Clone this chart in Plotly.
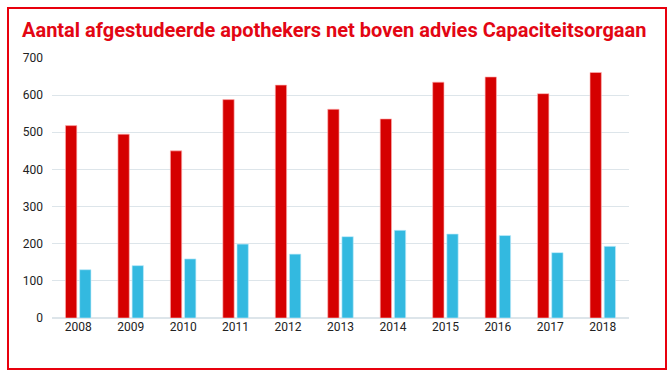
import plotly.graph_objects as go

years = ["2008", "2009", "2010", "2011", "2012", "2013", "2014", "2015", "2016", "2017", "2018"]
afgestudeerd = [518, 495, 450, 588, 627, 562, 536, 635, 649, 604, 661]
advies = [130, 141, 159, 199, 172, 219, 236, 226, 222, 176, 193]
title_text = "Aantal afgestudeerde apothekers net boven advies Capaciteitsorgaan"

RED = "#d50000"
BLUE = "#33b9e0"
FONT = "Roboto, Arial, sans-serif"

fig = go.Figure()
fig.add_trace(go.Bar(x=years, y=afgestudeerd, name="Afgestudeerd",
                     marker=dict(color=RED, line=dict(color="rgba(255,180,180,0.8)", width=0.8))))
fig.add_trace(go.Bar(x=years, y=advies, name="Advies Capaciteitsorgaan",
                     marker=dict(color=BLUE, line=dict(color="rgba(190,235,250,0.8)", width=0.8))))

L, R, T, B = 52, 42, 58, 57
W, H = 671, 375
pw, ph = W - L - R, H - T - B

def px(x):
    return (x - L) / pw

def py(y):
    return (H - B - y) / ph

fig.update_layout(
    width=W, height=H,
    margin=dict(l=L, r=R, t=T, b=B),
    paper_bgcolor="white", plot_bgcolor="white",
    barmode="group", bargap=0.46, bargroupgap=0.2,
    showlegend=False,
    font=dict(family=FONT, size=12, color="#222222"),
    title=dict(text="<b>" + title_text + "</b>",
               font=dict(family=FONT, size=20, color="#e30613"),
               x=22 / W, xref="container", xanchor="left",
               y=1 - 30 / H, yref="container", yanchor="middle"),
    shapes=[dict(type="rect", xref="paper", yref="paper",
                 x0=px(8), x1=px(666), y0=py(369), y1=py(8),
                 line=dict(color="#e8000d", width=2), layer="above")],
)
fig.update_yaxes(range=[0, 700], dtick=100, gridcolor="#dde5ea", gridwidth=1,
                 zeroline=True, zerolinecolor="#dde5ea", zerolinewidth=1.5,
                 showline=False, ticklabelstandoff=8,
                 tickfont=dict(family=FONT, size=12, color="#222222"))
fig.update_xaxes(showgrid=False, showline=False, ticks="", ticklabelstandoff=0,
                 tickfont=dict(family=FONT, size=12, color="#222222"))

fig.write_html("out.html", config={"displayModeBar": False},
               post_script="document.body.style.margin='0';")
